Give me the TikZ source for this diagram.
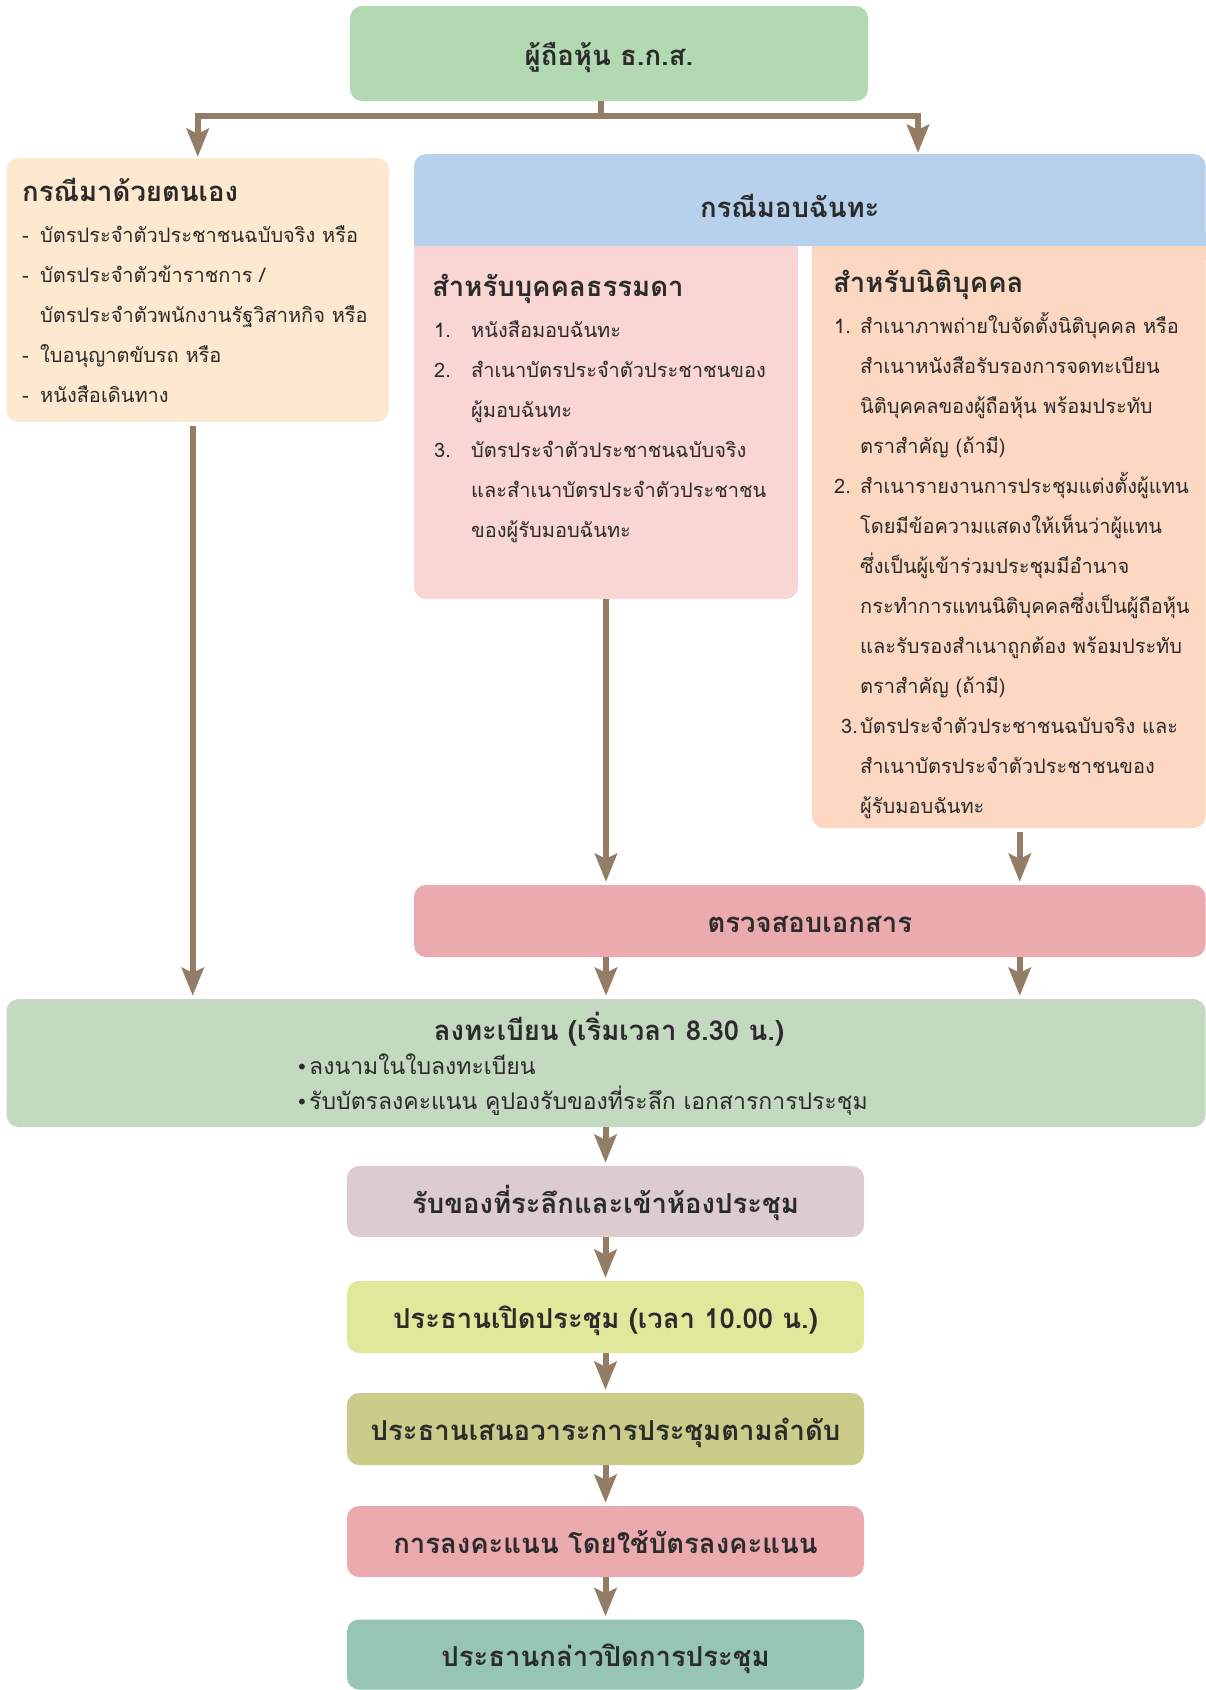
\documentclass[tikz,border=0pt]{standalone}
\usepackage{fontspec}
\setmainfont[Script=Thai]{Loma}
\newfontfamily\dotfont{DejaVu Sans}
\usetikzlibrary{arrows.meta}

\definecolor{holdergreen}{HTML}{B3D9B2}
\definecolor{selfcream}{HTML}{FDE9CF}
\definecolor{proxyblue}{HTML}{B7D1EC}
\definecolor{personpink}{HTML}{F9D6D3}
\definecolor{corppeach}{HTML}{FCD8C2}
\definecolor{checkred}{HTML}{EBABAE}
\definecolor{reggreen}{HTML}{C4DAC0}
\definecolor{giftmauve}{HTML}{DCCCD0}
\definecolor{openlime}{HTML}{DFE89B}
\definecolor{agendaolive}{HTML}{CBCB8A}
\definecolor{voterose}{HTML}{EBABAE}
\definecolor{closeteal}{HTML}{97C5B5}
\definecolor{arrowbrown}{HTML}{937D66}
\definecolor{textgray}{HTML}{2B2B2B}

\tikzset{
	box/.style={rectangle, rounded corners=12pt, inner sep=0pt, text=textgray},
	head/.style={font=\fontsize{27.5}{32}\selectfont\bfseries, text=textgray, inner sep=0pt},
	boxhead/.style={head, text height=26pt, text depth=3pt},
	body/.style={font=\fontsize{20}{40}\selectfont, text=textgray, align=left, anchor=north west, inner sep=0pt},
	brownline/.style={draw=arrowbrown, line width=6pt},
	arr/.style={brownline, -{Stealth[length=28pt, width=22pt, inset=5pt]}, shorten >=3pt}
}
\newcommand{\dashitem}{\makebox[18pt][l]{-}}
\newcommand{\listnum}[2][37pt]{\makebox[#1][l]{#2}}

\begin{document}
\begin{tikzpicture}[x=1pt, y=-1pt]
		\useasboundingbox (0,0) rectangle (1206,1690);

		% boxes
		\node[box, fill=holdergreen, minimum width=518pt, minimum height=95pt, boxhead] (holder) at (609,53.5) {ผู้ถือหุ้น ธ.ก.ส.};
		\node[box, fill=selfcream, minimum width=382.5pt, minimum height=264pt] (self) at (197.75,290) {};
		\node[box, fill=personpink, minimum width=384pt, minimum height=353pt] (person) at (606,422.5) {};
		\node[box, fill=corppeach, minimum width=393.5pt, minimum height=582pt] (corp) at (1008.75,537) {};
		\node[box, fill=proxyblue, minimum width=791.5pt, minimum height=92pt] (proxy) at (809.75,200) {};
		\fill[proxyblue] ([yshift=14pt]proxy.south west) rectangle (proxy.south east);
		\fill[personpink] (person.north west) rectangle ([yshift=-14pt]person.north east);
		\fill[corppeach] (corp.north west) rectangle ([yshift=-14pt]corp.north east);

		\node[box, fill=checkred, minimum width=791.5pt, minimum height=72pt, boxhead] (check) at (809.75,921) {ตรวจสอบเอกสาร};
		\node[box, fill=reggreen, minimum width=1199pt, minimum height=128pt] (reg) at (606,1063) {};

		\node[box, fill=giftmauve, minimum width=517pt, minimum height=71pt, boxhead] (gift) at (605.5,1201.5) {รับของที่ระลึกและเข้าห้องประชุม};
		\node[box, fill=openlime, minimum width=517pt, minimum height=72pt, boxhead] (open) at (605.5,1317) {ประธานเปิดประชุม (เวลา 10.00 น.)};
		\node[box, fill=agendaolive, minimum width=517pt, minimum height=72pt, boxhead] (agenda) at (605.5,1429) {ประธานเสนอวาระการประชุมตามลำดับ};
		\node[box, fill=voterose, minimum width=517pt, minimum height=71pt, boxhead] (vote) at (605.5,1541.5) {การลงคะแนน โดยใช้บัตรลงคะแนน};
		\node[box, fill=closeteal, minimum width=517pt, minimum height=70pt, boxhead] (close) at (605.5,1654.5) {ประธานกล่าวปิดการประชุม};

		% texts
		\node[head, anchor=base west] (selftitle) at (22,201) {กรณีมาด้วยตนเอง};
		\node[body] (selflist) at (22,214) {\strut\dashitem บัตรประจำตัวประชาชนฉบับจริง หรือ\\
			\dashitem บัตรประจำตัวข้าราชการ /\\
			\hspace*{18pt}บัตรประจำตัวพนักงานรัฐวิสาหกิจ หรือ\\
			\dashitem ใบอนุญาตขับรถ หรือ\\
			\dashitem หนังสือเดินทาง};

		\node[boxhead] (proxytitle) at ([xshift=-20pt, yshift=-6pt]proxy.center) {กรณีมอบฉันทะ};

		\node[head, anchor=base west] (persontitle) at (432,296) {สำหรับบุคคลธรรมดา};
		\node[body] (personlist) at (434,309) {\strut\listnum{1.}หนังสือมอบฉันทะ\\
			\listnum{2.}สำเนาบัตรประจำตัวประชาชนของ\\
			\listnum{}ผู้มอบฉันทะ\\
			\listnum{3.}บัตรประจำตัวประชาชนฉบับจริง\\
			\listnum{}และสำเนาบัตรประจำตัวประชาชน\\
			\listnum{}ของผู้รับมอบฉันทะ};

		\node[head, anchor=base west] (corptitle) at (833,292) {สำหรับนิติบุคคล};
		\node[body] (corplist) at (834,305) {\strut\listnum[26pt]{1.}สำเนาภาพถ่ายใบจัดตั้งนิติบุคคล หรือ\\
			\listnum[26pt]{}สำเนาหนังสือรับรองการจดทะเบียน\\
			\listnum[26pt]{}นิติบุคคลของผู้ถือหุ้น พร้อมประทับ\\
			\listnum[26pt]{}ตราสำคัญ (ถ้ามี)\\
			\listnum[26pt]{2.}สำเนารายงานการประชุมแต่งตั้งผู้แทน\\
			\listnum[26pt]{}โดยมีข้อความแสดงให้เห็นว่าผู้แทน\\
			\listnum[26pt]{}ซึ่งเป็นผู้เข้าร่วมประชุมมีอำนาจ\\
			\listnum[26pt]{}กระทำการแทนนิติบุคคลซึ่งเป็นผู้ถือหุ้น\\
			\listnum[26pt]{}และรับรองสำเนาถูกต้อง พร้อมประทับ\\
			\listnum[26pt]{}ตราสำคัญ (ถ้ามี)\\
			\hspace*{7pt}\listnum[19pt]{3.}บัตรประจำตัวประชาชนฉบับจริง และ\\
			\listnum[26pt]{}สำเนาบัตรประจำตัวประชาชนของ\\
			\listnum[26pt]{}ผู้รับมอบฉันทะ};

		\node[boxhead] (regtitle) at (609,1029) {ลงทะเบียน (เริ่มเวลา 8.30 น.)};
		\node[body, font=\fontsize{23}{35}\selectfont] (reglist) at (296,1050) {\strut\makebox[13pt][l]{\dotfont\fontsize{20}{35}\selectfont •}ลงนามในใบลงทะเบียน\\
			\makebox[13pt][l]{\dotfont\fontsize{20}{35}\selectfont •}รับบัตรลงคะแนน คูปองรับของที่ระลึก เอกสารการประชุม};

		% arrows
		\coordinate (split) at (601,116);
		\coordinate (rbranch) at (918,116);
		\coordinate (corpdrop) at ([xshift=11pt]corp.south);
		\draw[brownline] (holder.south -| split) -- (split);
		\draw[arr, shorten >=1pt] (split) -| (self.north);
		\draw[arr, shorten >=1pt] (split) -| (proxy.north -| rbranch);

		\draw[arr, shorten <=4pt] ([xshift=-5pt]self.south) -- ([xshift=-5pt]self.south |- reg.north);
		\draw[arr] (person.south) -- (person.south |- check.north);
		\draw[arr, shorten <=4pt] (corpdrop) -- (corpdrop |- check.north);
		\draw[arr] (check.south -| person.south) -- (person.south |- reg.north);
		\draw[arr] (check.south -| corpdrop) -- (corpdrop |- reg.north);

		\draw[arr] (reg.south -| gift.north) -- (gift.north);
		\draw[arr] (gift) -- (open);
		\draw[arr] (open) -- (agenda);
		\draw[arr] (agenda) -- (vote);
		\draw[arr] (vote) -- (close);
\end{tikzpicture}
\end{document}
